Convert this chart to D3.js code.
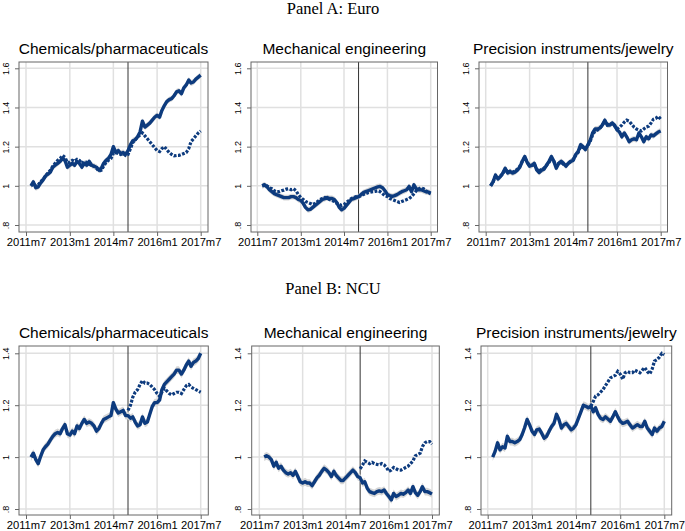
<!DOCTYPE html>
<html>
<head>
<meta charset="utf-8">
<script src="https://cdn.jsdelivr.net/npm/d3@7"></script>
<style>
  html, body { margin: 0; padding: 0; background: #fff; }
  svg { display: block; }
</style>
</head>
<body>
<svg id="chart" width="685" height="531"></svg>
<script>
// ---------------- DATA ----------------
// Monthly observations 2011m9 ... 2017m7 (71 months)
const startYear = 2011, startMonth = 9, nMonths = 71;
const breakIndex = 40; // 2015m1
const panelHeadings = ["Panel A: Euro", "Panel B: NCU"];
const industries = ["Chemicals/pharmaceuticals", "Mechanical engineering", "Precision instruments/jewelry"];
const xTickLabels = ["2011m7", "2013m1", "2014m7", "2016m1", "2017m7"];
const yTicksTop = [0.8, 1, 1.2, 1.4, 1.6];
const yTicksBottom = [0.8, 1, 1.2, 1.4];

// Panel A: Euro — solid (actual) and dashed
const euroChemSolid = [1.0, 1.02, 0.99, 0.995,
  1.015, 1.03, 1.05, 1.06, 1.07, 1.095, 1.105, 1.115, 1.125, 1.14, 1.13, 1.095,
  1.105, 1.115, 1.105, 1.125, 1.115, 1.095, 1.115, 1.105, 1.125, 1.105, 1.10, 1.095,
  1.08, 1.09, 1.115, 1.13, 1.14, 1.16, 1.20, 1.17, 1.18, 1.165, 1.17, 1.16,
  1.18, 1.21, 1.23, 1.235, 1.25, 1.275, 1.33, 1.30, 1.31, 1.32, 1.335, 1.35,
  1.36, 1.35, 1.385, 1.41, 1.43, 1.44, 1.445, 1.46, 1.48, 1.485, 1.47, 1.50,
  1.515, 1.54, 1.525, 1.53, 1.545, 1.555, 1.565];
const euroChemDashed = [1.0, 1.01, 1.0, 1.005,
  1.02, 1.035, 1.05, 1.065, 1.08, 1.10, 1.115, 1.13, 1.14, 1.155, 1.145, 1.12,
  1.12, 1.13, 1.125, 1.135, 1.13, 1.115, 1.125, 1.12, 1.11, 1.105, 1.10, 1.09,
  1.075, 1.08, 1.10, 1.12, 1.13, 1.14, 1.165, 1.17, 1.165, 1.16, 1.165, 1.155,
  1.16, 1.19, 1.22, 1.235, 1.25, 1.26, 1.27, 1.255, 1.24, 1.225, 1.21, 1.195,
  1.18, 1.175, 1.19, 1.20, 1.185, 1.17, 1.16, 1.153, 1.155, 1.155, 1.16, 1.165,
  1.17, 1.19, 1.225, 1.24, 1.255, 1.27, 1.28];
const euroMechSolid = [1.0, 1.005, 0.995, 0.98,
  0.97, 0.96, 0.955, 0.95, 0.945, 0.94, 0.94, 0.94, 0.945, 0.945, 0.94, 0.93,
  0.925, 0.91, 0.89, 0.878, 0.88, 0.89, 0.90, 0.91, 0.92, 0.93, 0.935, 0.94,
  0.935, 0.935, 0.93, 0.915, 0.89, 0.878, 0.885, 0.90, 0.915, 0.93, 0.935, 0.94,
  0.945, 0.955, 0.965, 0.97, 0.975, 0.98, 0.985, 0.99, 0.995, 0.997, 0.99, 0.975,
  0.955, 0.95, 0.946, 0.95, 0.955, 0.963, 0.97, 0.975, 0.98, 0.997, 0.97, 1.005,
  0.983, 0.98, 0.98, 0.975, 0.97, 0.968, 0.963];
const euroMechDashed = [1.0, 1.005, 1.0, 0.99,
  0.985, 0.975, 0.97, 0.97, 0.975, 0.978, 0.983, 0.985, 0.98, 0.985, 0.975, 0.955,
  0.94, 0.93, 0.92, 0.915, 0.91, 0.905, 0.91, 0.92, 0.93, 0.935, 0.94, 0.935,
  0.93, 0.925, 0.92, 0.91, 0.905, 0.90, 0.905, 0.915, 0.925, 0.935, 0.94, 0.945,
  0.945, 0.95, 0.955, 0.96, 0.965, 0.968, 0.97, 0.972, 0.975, 0.97, 0.96, 0.95,
  0.945, 0.935, 0.93, 0.925, 0.92, 0.915, 0.92, 0.925, 0.93, 0.935, 0.945, 0.96,
  0.975, 0.985, 0.99, 0.985, 0.975, 0.965, 0.96];
const euroPrecSolid = [1.0, 1.02, 1.055, 1.035,
  1.047, 1.065, 1.09, 1.065, 1.073, 1.065, 1.07, 1.08, 1.095, 1.125, 1.15, 1.12,
  1.10, 1.105, 1.115, 1.08, 1.068, 1.08, 1.085, 1.105, 1.125, 1.15, 1.125, 1.09,
  1.115, 1.125, 1.115, 1.10, 1.115, 1.125, 1.13, 1.16, 1.175, 1.21, 1.20, 1.185,
  1.21, 1.235, 1.27, 1.29, 1.29, 1.295, 1.31, 1.335, 1.31, 1.31, 1.32, 1.31,
  1.285, 1.275, 1.25, 1.27, 1.25, 1.225, 1.235, 1.24, 1.235, 1.27, 1.25, 1.225,
  1.25, 1.24, 1.26, 1.255, 1.265, 1.275, 1.28];
const euroPrecDashed = [1.0, 1.02, 1.05, 1.04,
  1.05, 1.06, 1.085, 1.07, 1.075, 1.07, 1.075, 1.085, 1.10, 1.125, 1.145, 1.12,
  1.105, 1.105, 1.11, 1.085, 1.075, 1.085, 1.09, 1.105, 1.12, 1.14, 1.125, 1.10,
  1.115, 1.12, 1.11, 1.105, 1.115, 1.125, 1.135, 1.155, 1.17, 1.20, 1.195, 1.19,
  1.205, 1.23, 1.26, 1.28, 1.285, 1.295, 1.31, 1.33, 1.31, 1.315, 1.32, 1.305,
  1.29, 1.30, 1.31, 1.325, 1.335, 1.33, 1.315, 1.30, 1.29, 1.285, 1.28, 1.29,
  1.30, 1.305, 1.32, 1.34, 1.345, 1.355, 1.34];

// Panel B: NCU — solid for whole period, dashed from 2015m1
const ncuChemSolid = [1.0, 1.015, 0.99, 0.975,
  1.003, 1.028, 1.04, 1.05, 1.065, 1.08, 1.09, 1.095, 1.09, 1.11, 1.125, 1.09,
  1.085, 1.10, 1.09, 1.12, 1.11, 1.13, 1.145, 1.13, 1.135, 1.13, 1.12, 1.10,
  1.11, 1.13, 1.145, 1.15, 1.155, 1.16, 1.21, 1.185, 1.17, 1.175, 1.18, 1.16,
  1.16, 1.15, 1.155, 1.135, 1.12, 1.125, 1.155, 1.13, 1.135, 1.165, 1.195, 1.21,
  1.21, 1.22, 1.26, 1.28, 1.29, 1.30, 1.31, 1.32, 1.335, 1.335, 1.32, 1.335,
  1.355, 1.37, 1.35, 1.365, 1.37, 1.38, 1.40];
const ncuChemDashed = [1.18, 1.20, 1.23, 1.25, 1.26, 1.28, 1.295, 1.285, 1.285, 1.28, 1.27, 1.26,
  1.245, 1.235, 1.25, 1.265, 1.255, 1.245, 1.24, 1.245, 1.25, 1.25, 1.245, 1.26,
  1.275, 1.28, 1.27, 1.265, 1.26, 1.255, 1.25];
const ncuMechSolid = [1.0, 1.005, 1.0, 0.99,
  0.965, 0.98, 0.957, 0.965, 0.95, 0.94, 0.935, 0.94, 0.93, 0.945, 0.925, 0.905,
  0.90, 0.905, 0.90, 0.90, 0.89, 0.905, 0.92, 0.93, 0.945, 0.957, 0.95, 0.94,
  0.925, 0.945, 0.93, 0.92, 0.91, 0.91, 0.92, 0.93, 0.94, 0.95, 0.94, 0.925,
  0.92, 0.90, 0.905, 0.88, 0.867, 0.863, 0.86, 0.867, 0.87, 0.867, 0.873, 0.86,
  0.848, 0.835, 0.86, 0.848, 0.853, 0.86, 0.857, 0.863, 0.873, 0.86, 0.886, 0.863,
  0.853, 0.867, 0.886, 0.867, 0.867, 0.863, 0.858];
const ncuMechDashed = [0.955, 0.97, 0.985, 0.98, 0.975, 0.98, 0.975, 0.972, 0.97, 0.975, 0.97, 0.96,
  0.945, 0.95, 0.96, 0.955, 0.95, 0.95, 0.955, 0.96, 0.965, 0.975, 0.985, 1.005,
  1.01, 1.015, 1.04, 1.055, 1.06, 1.06, 1.05];
const ncuPrecSolid = [1.0, 1.022, 1.055, 1.028,
  1.04, 1.035, 1.08, 1.06, 1.06, 1.055, 1.06, 1.067, 1.087, 1.113, 1.145, 1.125,
  1.10, 1.087, 1.105, 1.108, 1.092, 1.073, 1.08, 1.10, 1.118, 1.13, 1.165, 1.145,
  1.112, 1.125, 1.13, 1.118, 1.105, 1.112, 1.125, 1.15, 1.175, 1.20, 1.196, 1.19,
  1.196, 1.175, 1.19, 1.165, 1.15, 1.145, 1.155, 1.147, 1.138, 1.155, 1.175, 1.155,
  1.138, 1.13, 1.133, 1.138, 1.125, 1.112, 1.118, 1.125, 1.118, 1.118, 1.138, 1.112,
  1.10, 1.087, 1.112, 1.10, 1.112, 1.118, 1.138];
const ncuPrecDashed = [1.196, 1.215, 1.235, 1.24, 1.25, 1.26, 1.275, 1.29, 1.305, 1.31, 1.315, 1.33,
  1.32, 1.30, 1.325, 1.33, 1.325, 1.325, 1.335, 1.33, 1.325, 1.335, 1.345, 1.33,
  1.32, 1.34, 1.37, 1.375, 1.385, 1.40, 1.395];

// ---------------- DRAWING ----------------
const svg = d3.select("#chart");
const navy = "#0d3b7e";
const bandHalf = 0.015;
const months = d3.range(nMonths).map(i => new Date(startYear, startMonth - 1 + i, 1));
const xTickDates = [new Date(2011, 6, 1), new Date(2013, 0, 1), new Date(2014, 6, 1), new Date(2016, 0, 1), new Date(2017, 6, 1)];
const breakDate = months[breakIndex];
const fmtY = v => (v === 1 ? "1" : d3.format(".1f")(v).replace(/^0/, ""));
const sans = "'Liberation Sans', Arial, sans-serif";

const rows = [
  { heading: panelHeadings[0], headY: 14, titleY: 54, frameY: [62, 232], yr: [225, 68.3], ticks: yTicksTop,
    series: [[euroChemSolid, euroChemDashed], [euroMechSolid, euroMechDashed], [euroPrecSolid, euroPrecDashed]],
    dashStart: 0,
    cols: [{ f: [19, 208], s: [26, 200.7] }, { f: [251, 437.5], s: [257.3, 430.7] }, { f: [479, 667.5], s: [485.7, 660.7] }] },
  { heading: panelHeadings[1], headY: 294, titleY: 338, frameY: [346, 515], yr: [509, 353.3], ticks: yTicksBottom,
    series: [[ncuChemSolid, ncuChemDashed], [ncuMechSolid, ncuMechDashed], [ncuPrecSolid, ncuPrecDashed]],
    dashStart: breakIndex,
    cols: [{ f: [19, 208.3], s: [26, 200.7] }, { f: [251.7, 439.3], s: [259.3, 432] }, { f: [481, 671.7], s: [487.7, 664.3] }] }
];

rows.forEach(row => {
  svg.append("text")
    .attr("x", 333).attr("y", row.headY)
    .attr("text-anchor", "middle")
    .style("font-family", "'Liberation Serif', 'Times New Roman', serif")
    .style("font-size", "16.5px")
    .attr("fill", "#000")
    .text(row.heading);

  row.cols.forEach((c, ci) => {
    const x = d3.scaleTime().domain([xTickDates[0], xTickDates[4]]).range(c.s);
    const y = d3.scaleLinear().domain([row.ticks[0], row.ticks[row.ticks.length - 1]]).range(row.yr);
    const g = svg.append("g");
    const [fx0, fx1] = c.f, [fy0, fy1] = row.frameY;

    // title
    g.append("text")
      .attr("x", (fx0 + fx1) / 2).attr("y", row.titleY)
      .attr("text-anchor", "middle")
      .style("font-family", sans)
      .style("font-size", "15.5px")
      .attr("fill", "#000")
      .text(industries[ci]);

    // gridlines
    g.selectAll(".hg").data(row.ticks).join("line")
      .attr("x1", fx0).attr("x2", fx1)
      .attr("y1", d => y(d)).attr("y2", d => y(d))
      .attr("stroke", "#e0e0e0").attr("stroke-width", 1.5);
    g.selectAll(".vg").data(xTickDates).join("line")
      .attr("x1", d => x(d)).attr("x2", d => x(d))
      .attr("y1", fy0).attr("y2", fy1)
      .attr("stroke", "#e0e0e0").attr("stroke-width", 1.5);

    // vertical break line
    g.append("line")
      .attr("x1", x(breakDate)).attr("x2", x(breakDate))
      .attr("y1", fy0).attr("y2", fy1)
      .attr("stroke", "#333").attr("stroke-width", 1);

    const [solid, dashed] = row.series[ci];
    const solidPts = solid.map((v, i) => ({ d: months[i], v }));
    const dashPts = dashed.map((v, i) => ({ d: months[i + row.dashStart], v }));

    // confidence band
    g.append("path")
      .datum(solidPts)
      .attr("d", d3.area().x(p => x(p.d)).y0(p => y(p.v - bandHalf)).y1(p => y(p.v + bandHalf)))
      .attr("fill", "#d6d6d6");

    const line = d3.line().x(p => x(p.d)).y(p => y(p.v));
    g.append("path").datum(solidPts).attr("d", line)
      .attr("fill", "none").attr("stroke", navy).attr("stroke-width", 3.4)
      .attr("stroke-linejoin", "round");
    g.append("path").datum(dashPts).attr("d", line)
      .attr("fill", "none").attr("stroke", navy).attr("stroke-width", 3.2)
      .attr("stroke-dasharray", "2.8,1.5");

    // frame
    g.append("rect")
      .attr("x", fx0).attr("y", fy0).attr("width", fx1 - fx0).attr("height", fy1 - fy0)
      .attr("fill", "none").attr("stroke", "#666").attr("stroke-width", 1);

    // axes
    const yAxis = d3.axisLeft(y).tickValues(row.ticks).tickFormat(fmtY).tickSize(4).tickPadding(0);
    const ya = g.append("g").attr("transform", `translate(${fx0},0)`).call(yAxis);
    ya.select(".domain").remove();
    ya.selectAll(".tick line").attr("stroke", "#666");
    ya.selectAll(".tick text")
      .attr("transform", "rotate(-90)")
      .attr("x", 0).attr("y", -10.5).attr("dy", 0)
      .attr("text-anchor", "middle")
      .style("font-family", sans)
      .style("font-size", "9px")
      .attr("fill", "#000");

    const xAxis = d3.axisBottom(x).tickValues(xTickDates).tickFormat((d, i) => xTickLabels[i]).tickSize(4).tickPadding(0);
    const xa = g.append("g").attr("transform", `translate(0,${fy1})`).call(xAxis);
    xa.select(".domain").remove();
    xa.selectAll(".tick line").attr("stroke", "#666");
    xa.selectAll(".tick text")
      .attr("y", 14).attr("dy", 0)
      .style("font-family", sans)
      .style("font-size", "11.2px")
      .attr("fill", "#000");
  });
});
</script>
</body>
</html>
